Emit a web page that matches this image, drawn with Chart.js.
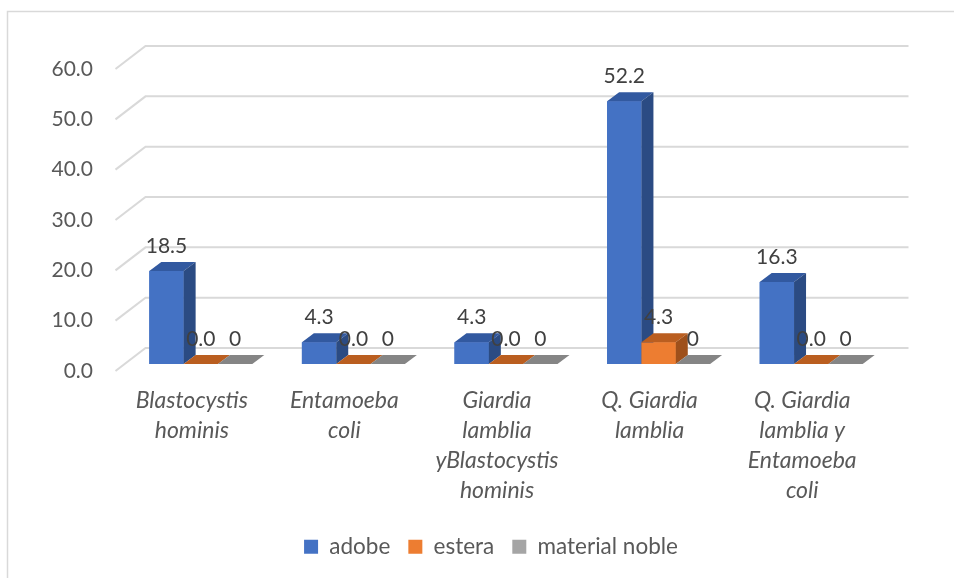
<!DOCTYPE html>
<html>
<head>
<meta charset="utf-8">
<script src="https://cdn.jsdelivr.net/npm/chart.js@4.4.1/dist/chart.umd.min.js"></script>
<style>
  html, body { margin: 0; padding: 0; background: #ffffff; }
  #wrap { width: 954px; height: 578px; }
</style>
</head>
<body>
<div id="wrap"><canvas id="chart" width="954" height="578"></canvas></div>
<script>
// Categories (multi-line x-axis labels)
const categories = [
  ['Blastocystis', 'hominis'],
  ['Entamoeba', 'coli'],
  ['Giardia', 'lamblia', 'yBlastocystis', 'hominis'],
  ['Q. Giardia', 'lamblia'],
  ['Q. Giardia', 'lamblia y', 'Entamoeba', 'coli']
];
const seriesNames = ['adobe', 'estera', 'material noble'];
const adobe = [18.5, 4.3, 4.3, 52.2, 16.3];
const estera = [0.0, 0.0, 0.0, 4.3, 0.0];
const materialNoble = [0, 0, 0, 0, 0];
const labelDecimals = [1, 1, 0];
const yTicks = [0, 10, 20, 30, 40, 50, 60];

// Face colours for each series: front, top, side
const faces = [
  { front: '#4472C4', top: '#3259A0', side: '#2B4B83' },
  { front: '#ED7D31', top: '#BA5E20', side: '#9E501B' },
  { front: '#A5A5A5', top: '#858585', side: '#707070' }
];

// Bar extrusion and wall offsets (pixels, relative to the bar plane)
const DEPTH_X = 12, DEPTH_Y = -9;
const WALL_X = 21, WALL_Y = -16;
const FRONT_X = -9, FRONT_Y = 7;

const FONT = 'Lato, "Open Sans", sans-serif';
const PAD_BOTTOM = 10;
const PLOT_BOTTOM = 364;
const LEGEND_CENTER_X = 491;

function poly(ctx, pts, color) {
  ctx.beginPath();
  ctx.moveTo(pts[0][0], pts[0][1]);
  for (let k = 1; k < pts.length; k++) ctx.lineTo(pts[k][0], pts[k][1]);
  ctx.closePath();
  ctx.fillStyle = color;
  ctx.fill();
}

// White background and the thin outer frame
const frame = {
  id: 'frame',
  beforeDraw(chart) {
    const ctx = chart.ctx;
    ctx.save();
    ctx.fillStyle = '#ffffff';
    ctx.fillRect(0, 0, chart.width, chart.height);
    ctx.strokeStyle = '#D9D9D9';
    ctx.lineWidth = 1.5;
    ctx.strokeRect(7.5, 11.5, chart.width + 20, chart.height + 20);
    ctx.restore();
  },
  afterLayout(chart) {
    // centre the legend row under the plot
    const lg = chart.legend;
    const shift = LEGEND_CENTER_X - (lg.left + lg.right) / 2;
    lg.left += shift;
    lg.right += shift;
  }
};

// Back wall grid, side wall edges, bar extrusions and value labels
const threeD = {
  id: 'threeD',
  beforeDatasetsDraw(chart) {
    const { ctx, chartArea: a, scales: { y } } = chart;
    ctx.save();
    ctx.strokeStyle = '#D9D9D9';
    ctx.lineWidth = 2;
    yTicks.forEach(v => {
      const py = y.getPixelForValue(v);
      ctx.beginPath();
      ctx.moveTo(a.left + FRONT_X, py + FRONT_Y);
      ctx.lineTo(a.left + WALL_X, py + WALL_Y);
      ctx.lineTo(a.right + WALL_X, py + WALL_Y);
      ctx.stroke();
    });
    ctx.restore();
  },
  afterDatasetsDraw(chart) {
    const ctx = chart.ctx;
    const n = chart.data.labels.length;
    const nd = chart.data.datasets.length;
    ctx.save();
    for (let i = 0; i < n; i++) {
      for (let d = 0; d < nd; d++) {
        const bar = chart.getDatasetMeta(d).data[i];
        const p = bar.getProps(['x', 'y', 'base', 'width'], true);
        const l = p.x - p.width / 2, r = p.x + p.width / 2;
        const top = Math.min(p.y, p.base), bot = Math.max(p.y, p.base);
        const f = faces[d];
        ctx.fillStyle = f.front;
        ctx.fillRect(l, top, r - l, bot - top);
        poly(ctx, [[l, top], [r, top], [r + DEPTH_X, top + DEPTH_Y], [l + DEPTH_X, top + DEPTH_Y]], f.top);
        if (bot - top > 0.5) {
          poly(ctx, [[r, top], [r + DEPTH_X, top + DEPTH_Y], [r + DEPTH_X, bot + DEPTH_Y], [r, bot]], f.side);
        }
      }
    }
    ctx.font = '21px ' + FONT;
    ctx.fillStyle = '#404040';
    ctx.textAlign = 'center';
    ctx.textBaseline = 'middle';
    for (let d = 0; d < nd; d++) {
      const meta = chart.getDatasetMeta(d);
      const vals = chart.data.datasets[d].data;
      meta.data.forEach((bar, i) => {
        const p = bar.getProps(['x', 'y'], true);
        ctx.fillText(vals[i].toFixed(labelDecimals[d]), p.x, p.y - 25);
      });
    }
    ctx.restore();
  }
};

const chart = new Chart(document.getElementById('chart'), {
  type: 'bar',
  data: {
    labels: categories,
    datasets: [
      { label: seriesNames[0], data: adobe, backgroundColor: faces[0].front },
      { label: seriesNames[1], data: estera, backgroundColor: faces[1].front },
      { label: seriesNames[2], data: materialNoble, backgroundColor: faces[2].front }
    ]
  },
  options: {
    responsive: false,
    animation: false,
    devicePixelRatio: 1,
    datasets: { bar: { barPercentage: 1.0, categoryPercentage: 0.675 } },
    layout: { padding: { top: 62, right: 66.5, bottom: PAD_BOTTOM, left: 0 } },
    plugins: {
      tooltip: { enabled: false },
      legend: {
        position: 'bottom',
        labels: {
          boxWidth: 14,
          boxHeight: 14,
          padding: 18,
          color: '#595959',
          font: { family: FONT, size: 22.5 }
        }
      }
    },
    scales: {
      x: {
        grid: { display: false, drawTicks: false },
        border: { display: false },
        ticks: {
          color: '#595959',
          font: { family: FONT, size: 23, style: 'italic', lineHeight: '30px' },
          labelOffset: -9,
          padding: 22,
          maxRotation: 0,
          autoSkip: false
        },
        afterFit(s) {
          s.height = s.chart.height - PLOT_BOTTOM - PAD_BOTTOM - s.chart.legend.height;
        }
      },
      y: {
        min: 0,
        max: 60,
        grid: { display: false, drawTicks: false },
        border: { display: false },
        afterBuildTicks(s) { s.ticks = yTicks.map(v => ({ value: v })); },
        ticks: {
          color: '#595959',
          font: { family: FONT, size: 21 },
          padding: 31.5,
          labelOffset: 7,
          callback: v => v.toFixed(1)
        },
        afterFit(s) { s.width = 124.5; }
      }
    }
  },
  plugins: [frame, threeD]
});
</script>
</body>
</html>
